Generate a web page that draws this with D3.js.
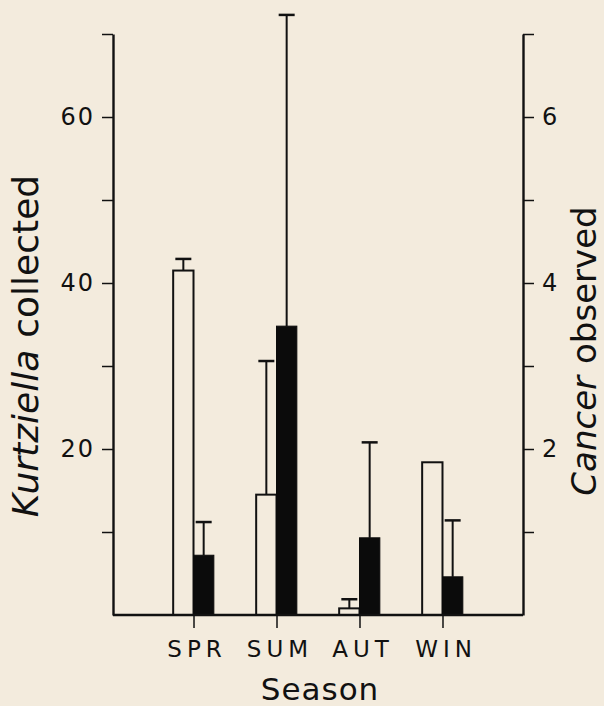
<!DOCTYPE html>
<html>
<head>
<meta charset="utf-8">
<script src="https://cdn.jsdelivr.net/npm/d3@7"></script>
<style>
  html, body { margin: 0; padding: 0; background: #f3ebdd; }
  svg { display: block; }
  text { font-family: "DejaVu Sans", sans-serif; fill: #111; }
</style>
</head>
<body>
<svg id="chart" width="604" height="706"></svg>
<script>
// ---- data ----
const seasons = ["SPR", "SUM", "AUT", "WIN"];
const kurtziellaMean = [41.5, 14.5, 0.8, 18.4];
const kurtziellaErr  = [1.4, 16.1, 1.1, 0];
const cancerMean = [0.72, 3.48, 0.93, 0.46];
const cancerErr  = [0.40, 3.75, 1.15, 0.68];
const leftTicks  = [10, 20, 30, 40, 50, 60, 70];
const leftLabels = [20, 40, 60];
const rightTicks = [1, 2, 3, 4, 5, 6, 7];
const rightLabels = [2, 4, 6];

const bg = "#f3ebdd", ink = "#111";
const svg = d3.select("#chart");
svg.append("rect").attr("width", 604).attr("height", 706).attr("fill", bg);

const x = d3.scalePoint().domain(seasons).range([113, 523]).padding(0.97);
const yL = d3.scaleLinear().domain([0, 70]).range([615, 34]);
const yR = d3.scaleLinear().domain([0, 7]).range([615, 34]);
const bw = x.step() * 0.245;

const rows = seasons.map((s, i) => ({
  s, k: kurtziellaMean[i], ke: kurtziellaErr[i], c: cancerMean[i], ce: cancerErr[i]
}));

// error bars
function errBar(g, cx, y0, y1) {
  g.append("line").attr("x1", cx).attr("x2", cx).attr("y1", y0).attr("y2", y1)
    .attr("stroke", ink).attr("stroke-width", 2);
  g.append("line").attr("x1", cx - 8).attr("x2", cx + 8).attr("y1", y1).attr("y2", y1)
    .attr("stroke", ink).attr("stroke-width", 2.5);
}
const eg = svg.append("g");
rows.forEach(d => {
  const cx = x(d.s);
  if (d.ke > 0) errBar(eg, cx - bw / 2, yL(d.k), yL(d.k + d.ke));
  if (d.ce > 0) errBar(eg, cx + bw / 2, yR(d.c), yR(d.c + d.ce));
});

// open bars (Kurtziella)
svg.append("g").selectAll("rect").data(rows).join("rect")
  .attr("x", d => x(d.s) - bw).attr("width", bw)
  .attr("y", d => yL(d.k)).attr("height", d => yL(0) - yL(d.k))
  .attr("fill", "none").attr("stroke", ink).attr("stroke-width", 2);

// filled bars (Cancer)
svg.append("g").selectAll("rect").data(rows).join("rect")
  .attr("x", d => x(d.s)).attr("width", bw)
  .attr("y", d => yR(d.c)).attr("height", d => yR(0) - yR(d.c))
  .attr("fill", "#0b0b0b").attr("stroke", "#0b0b0b").attr("stroke-width", 1);

// axes
const axL = d3.axisLeft(yL).tickValues(leftTicks).tickSize(11).tickSizeOuter(0).tickPadding(9)
  .tickFormat(v => leftLabels.includes(v) ? v : "");
const gL = svg.append("g").attr("transform", "translate(113,0)").call(axL);

const axR = d3.axisRight(yR).tickValues(rightTicks).tickSize(11).tickSizeOuter(0).tickPadding(8)
  .tickFormat(v => rightLabels.includes(v) ? v : "");
const gR = svg.append("g").attr("transform", "translate(523,0)").call(axR);

const axB = d3.axisBottom(x).tickSize(13).tickSizeOuter(0).tickPadding(13);
const gB = svg.append("g").attr("transform", "translate(0,615)").call(axB);

[gL, gR, gB].forEach(g => {
  g.select(".domain").attr("stroke", ink).attr("stroke-width", 2.4);
  g.selectAll(".tick line").attr("stroke", ink).attr("stroke-width", 1.5);
  g.selectAll(".tick text").attr("fill", ink)
    .style("font-family", '"DejaVu Sans", sans-serif').style("font-size", "24px")
    .style("letter-spacing", "2px");
});
gL.selectAll(".tick text").attr("dx", "2px");
gB.selectAll(".tick text").style("font-size", "23px").style("letter-spacing", "5px").attr("dx", "3px");
gB.select(".domain").attr("d", `M113,0H523`);

// axis titles
svg.append("text").attr("x", 320).attr("y", 700).attr("text-anchor", "middle")
  .style("font-size", "31px").style("letter-spacing", "1px").text("Season");

const tl = svg.append("text").attr("transform", "translate(38,346) rotate(-90)")
  .attr("text-anchor", "middle").style("font-size", "36px");
tl.append("tspan").style("font-style", "italic").text("Kurtziella");
tl.append("tspan").attr("dx", "12").text("collected");

const tr = svg.append("text").attr("transform", "translate(596,351) rotate(-90)")
  .attr("text-anchor", "middle").style("font-size", "34px");
tr.append("tspan").style("font-style", "italic").text("Cancer");
tr.append("tspan").attr("dx", "12").text("observed");
</script>
</body>
</html>
